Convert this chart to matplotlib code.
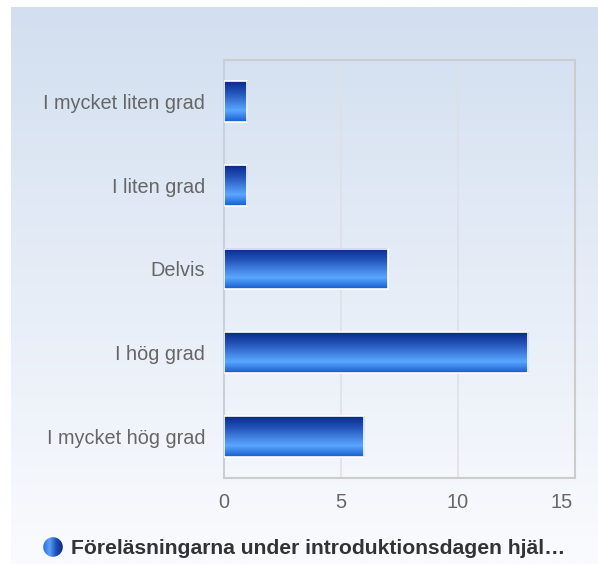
import matplotlib
matplotlib.use("Agg")
import matplotlib.pyplot as plt
import numpy as np
import matplotlib.transforms as mtransforms
from matplotlib.colors import LinearSegmentedColormap
from matplotlib.patches import Rectangle, Circle

categories = ["I mycket liten grad", "I liten grad", "Delvis", "I hög grad", "I mycket hög grad"]
values = [1, 1, 7, 13, 6]
xticks = [0, 5, 10, 15]
series_name = "Föreläsningarna under introduktionsdagen hjäl…"

plt.rcParams['font.family'] = ['Liberation Sans', 'DejaVu Sans']

W, H = 598, 564
fig = plt.figure(figsize=(W / 100, H / 100), dpi=100)
fig.patch.set_facecolor('white')

# background panel gradient
bg = fig.add_axes([11 / W, 0, 1 - 11 / W, 1 - 7 / H])
bg.axis('off')
bg_cmap = LinearSegmentedColormap.from_list('bg', ['#d2dff0', '#e6edf7', '#fafbfe'])
bg.imshow(np.linspace(0, 1, 256).reshape(-1, 1), aspect='auto', cmap=bg_cmap,
          extent=[0, 1, 0, 1], origin='upper')
bg.set_xlim(0, 1)
bg.set_ylim(0, 1)

left, right, top, bottom = 224, 575, 60, 478
ax = fig.add_axes([left / W, 1 - bottom / H, (right - left) / W, (bottom - top) / H])
ax.patch.set_alpha(0)

n = len(categories)
pos = np.arange(n)
bar_h = 0.49
bar_cmap = LinearSegmentedColormap.from_list(
    'bar', [(0, '#08298a'), (0.3, '#2556bb'), (0.72, '#5aa7ff'), (1.0, '#155ccc')])
grad = np.linspace(0, 1, 256).reshape(-1, 1)
for p, v in zip(pos, values):
    ax.imshow(grad, aspect='auto', cmap=bar_cmap, origin='upper',
              extent=[0, v, p + bar_h / 2, p - bar_h / 2], zorder=3)
    ax.add_patch(Rectangle((0, p - bar_h / 2), v, bar_h, fill=False,
                           edgecolor='white', linewidth=1.2, zorder=4))

ax.set_xlim(0, 15)
ax.set_ylim(n - 0.5, -0.5)
ax.set_xticks(xticks)
ax.set_xticklabels([str(t) for t in xticks])
ax.set_yticks(pos)
ax.set_yticklabels(categories)
ax.tick_params(axis='both', length=0, labelsize=14.3, colors='#666666')
ax.tick_params(axis='y', pad=13.5)
ax.tick_params(axis='x', pad=11)
xl = ax.get_xticklabels()
xl[-1].set_horizontalalignment('right')
xl[-1].set_transform(xl[-1].get_transform() + mtransforms.ScaledTranslation(-1.5 / 72, 0, fig.dpi_scale_trans))
ax.grid(axis='x', color='#e0e0e6', linewidth=1.2, zorder=0)
ax.set_axisbelow(True)
for s in ['top', 'right', 'bottom']:
    ax.spines[s].set_color('#cccccc')
    ax.spines[s].set_linewidth(1.5)
ax.spines['left'].set_color('#c8d0dc')
ax.spines['left'].set_linewidth(1.5)

# legend
r = 10
cx, cy = 53, 547
lg = fig.add_axes([(cx - r) / W, 1 - (cy + r) / H, 2 * r / W, 2 * r / H])
lg.axis('off')
leg_cmap = LinearSegmentedColormap.from_list('leg', ['#2e6ee0', '#5aa0fa', '#1b4fb8', '#0a2a80'])
im = lg.imshow(np.linspace(0, 1, 256).reshape(1, -1), aspect='auto', cmap=leg_cmap,
               extent=[-1, 1, -1, 1])
circ = Circle((0, 0), 0.98, transform=lg.transData)
im.set_clip_path(circ)
lg.set_xlim(-1, 1)
lg.set_ylim(-1, 1)
fig.text(71 / W, 1 - 548 / H, series_name, fontsize=15.2, fontweight='bold', color='#333333',
         va='center', ha='left')

fig.savefig('out.png', dpi=100)
